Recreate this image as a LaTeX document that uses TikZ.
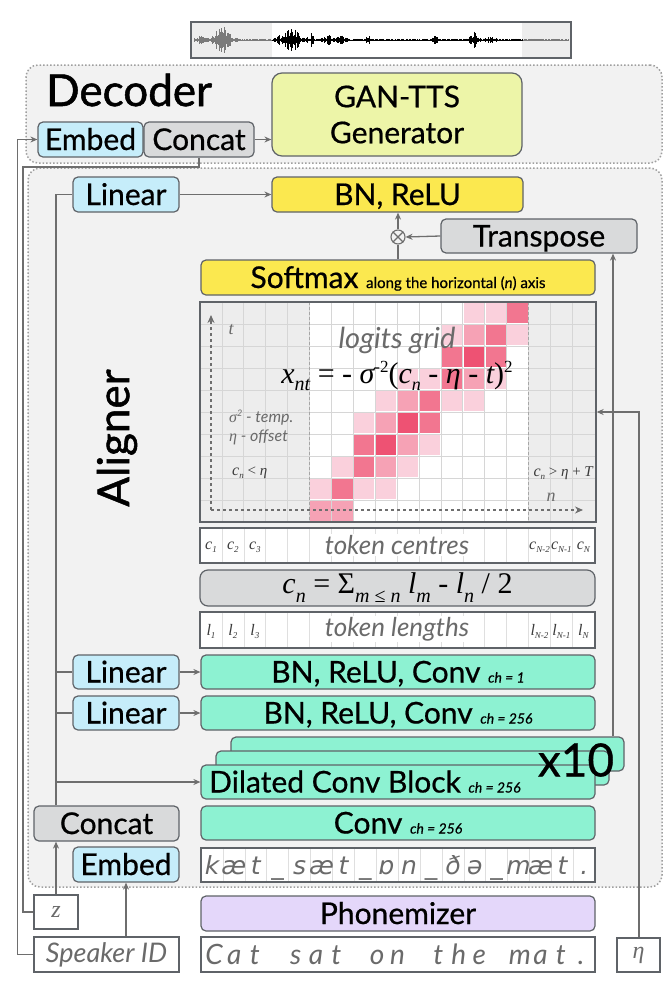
\documentclass[tikz,border=0pt]{standalone}
\usepackage{fontspec}
\setmainfont{Lato}
\newfontfamily\lbf{Lato}[FakeBold=0.6]
\newfontfamily\ttl{Lato}[FakeBold=1.2]
\newfontfamily\tms{Liberation Serif}
\newfontfamily\ipa{DejaVu Sans}
\usetikzlibrary{arrows.meta}
\definecolor{bordc}{HTML}{5F6368}
\definecolor{linec}{HTML}{6E6E6E}
\definecolor{panel}{HTML}{F2F2F2}
\definecolor{lblue}{HTML}{C6EDFA}
\definecolor{lgray}{HTML}{D9DADB}
\definecolor{ylw}{HTML}{FBE84F}
\definecolor{lime}{HTML}{EDF5A8}
\definecolor{aqua}{HTML}{8DF2D2}
\definecolor{lav}{HTML}{E4D7FA}
\definecolor{txtg}{HTML}{6A6A6A}
\definecolor{txtd}{HTML}{3A3A3A}
\definecolor{pL}{HTML}{FAD0DC}
\definecolor{pM}{HTML}{F6A2B5}
\definecolor{pMD}{HTML}{F27690}
\definecolor{pD}{HTML}{EE5273}
\definecolor{gridbg}{HTML}{EDEDED}
\definecolor{gridln}{HTML}{D6D6D6}
\definecolor{wavg}{HTML}{7A7A7A}
\newcommand\lbl{\lbf\fontsize{30}{34}\selectfont}
\newcommand\chs[1]{{\fontsize{14}{14}\selectfont\itshape #1}}
\newcommand\ci[2]{{\tms\itshape\fontsize{16}{16}\selectfont #1\raisebox{-3pt}{\fontsize{9}{9}\selectfont #2}}}
\newcommand\bx[7]{%
  \pgfmathsetmacro\bxcx{(#3+#5)/2}\pgfmathsetmacro\bxcy{(#4+#6)/2}%
  \pgfmathsetmacro\bxw{#5-#3}\pgfmathsetmacro\bxh{#6-#4}%
  \node[#2, minimum width=\bxw pt, minimum height=\bxh pt] (#1) at (\bxcx,\bxcy) {#7};}
\begin{document}
\begin{tikzpicture}[x=1pt,y=-1pt,
  declare function={bump(\x,\c,\w)=exp(0-pow(min(abs((\x-\c)/\w),3),2));},
  box/.style={draw=bordc, line width=1.2pt, rounded corners=5pt, inner sep=0pt, text=black, font=\lbl, text height=21pt, text depth=0pt},
  wbox/.style={draw=bordc, line width=1.2pt, fill=white, inner sep=0pt, text=txtg},
  panelst/.style={draw=gray!75, dotted, line width=1.5pt, fill=panel, rounded corners=12pt, inner sep=0pt},
  conn/.style={draw=linec, line width=1.3pt},
  arr/.style={conn, -{Stealth[length=7pt,width=6pt]}},
  axis/.style={draw=linec, line width=1.3pt, dashed, -{Stealth[length=8pt,width=7pt]}}
]
\useasboundingbox (0,0) rectangle (670,983);
\fill[white] (0,0) rectangle (670,983);

% ---------- waveform ----------
\fill[white] (191,22) rectangle (571,58);
\fill[gray!14] (191,22) rectangle (272,58);
\fill[gray!14] (522,22) rectangle (571,58);
\pgfmathsetseed{7}
\foreach \i in {0,...,374}{
  \pgfmathsetmacro\xx{194+\i}
  \pgfmathsetmacro\am{1.2+3*bump(\xx,200,6)+13*bump(\xx,221,9)+12*bump(\xx,291,11)+9*bump(\xx,312,1.5)+4*bump(\xx,328,7)+5*bump(\xx,342,4)+3*bump(\xx,368,3)+4*bump(\xx,435,3)+9*bump(\xx,473,4)+2*bump(\xx,490,5)}
  \pgfmathsetmacro\hh{\am*(0.2+0.8*rnd)}
  \pgfmathsetmacro\cc{(\xx<272 || \xx>522) ? 1 : 0}
  \ifnum\cc=1 \def\wc{wavg}\else\def\wc{black}\fi
  \draw[\wc, line width=0.9pt] (\xx,40-\hh) -- (\xx,40+\hh);
}
\bx{wave}{draw=bordc, line width=1.2pt, inner sep=0pt}{191}{22}{571}{58}{}

% ---------- decoder ----------
\bx{decpanel}{panelst}{26}{65}{662}{163}{}
\node[anchor=west, font=\ttl\fontsize{44}{44}\selectfont, inner sep=0pt] (dectitle) at (46,90) {Decoder};
\bx{gan}{box, fill=lime, rounded corners=10pt, text height=, text depth=, align=center, font=\lbf\fontsize{30}{36}\selectfont}{272}{73}{522}{156}{GAN-TTS\\Generator}
\bx{embD}{box, fill=lblue}{38}{122}{143}{157}{Embed}
\bx{concD}{box, fill=lgray}{144}{122}{254}{157}{Concat}

% ---------- aligner ----------
\bx{alpanel}{panelst}{28}{168}{662}{887}{}
\node[rotate=90, font=\ttl\fontsize{44}{44}\selectfont, inner sep=0pt] (altitle) at (117,438) {Aligner};

\bx{linT}{box, fill=lblue}{73}{177}{179}{212}{Linear}
\bx{bnT}{box, fill=ylw}{272}{177}{523}{212}{BN, ReLU}
\bx{trans}{box, fill=lgray}{441}{219}{637}{253}{Transpose}
\node[circle, draw=linec, line width=1.1pt, minimum size=14pt, inner sep=0pt] (mul) at (398,237) {};
\draw[linec, line width=1.1pt] (mul.north west) -- (mul.south east) (mul.north east) -- (mul.south west);
\bx{soft}{box, fill=ylw}{201}{260}{595}{295}{Softmax {\fontsize{15}{15}\selectfont along the horizontal (\textit{n}) axis}}

% ---------- logits grid ----------
\fill[gridbg] (200,302) rectangle (596,522);
\fill[white] (309.5,302) rectangle (528.5,522);
\foreach \i in {1,...,17}{ \draw[gridln, line width=0.7pt] ({200+21.9*\i},302) -- ({200+21.9*\i},522); }
\foreach \j in {1,...,9}{ \draw[gridln, line width=0.7pt] (200,{302+22*\j}) -- (596,{302+22*\j}); }
\draw[gray!70, densely dashed, line width=0.6pt] (309.5,302) -- (309.5,522) (528.5,302) -- (528.5,522);
\foreach \c/\r/\col in {12/0/pL,13/0/pL,14/0/pMD,
  11/1/pL,12/1/pM,13/1/pMD,14/1/pL,
  11/2/pMD,12/2/pD,13/2/pMD,
  9/3/pL,10/3/pL,11/3/pMD,12/3/pM,13/3/pL,
  8/4/pL,9/4/pM,10/4/pMD,11/4/pL,12/4/pL,
  7/5/pL,8/5/pM,9/5/pD,10/5/pMD,
  7/6/pMD,8/6/pD,9/6/pM,10/6/pL,
  6/7/pL,7/7/pMD,8/7/pM,9/7/pL,
  5/8/pL,6/8/pMD,7/8/pL,8/8/pL,
  5/9/pM,6/9/pM}{
  \fill[\col] ({200+21.9*\c+0.8},{302+22*\r+0.8}) rectangle ++(20.3,20.4);
}
\coordinate (ao) at (211,510);
\coordinate (at) at (211,315);
\coordinate (an) at (583,510);
\draw[axis] (ao) -- (at);
\draw[axis] (ao) -- (an);
\node[text=txtg, font=\tms\itshape\fontsize{18}{18}\selectfont] (tlab) at (231,330) {t};
\node[text=txtg, font=\tms\itshape\fontsize{18}{18}\selectfont] (nlab) at (551,497) {n};
\node[text=txtg, font=\itshape\fontsize{29}{29}\selectfont] (lg) at (397,340) {logits grid};
\node[text=black, inner sep=0pt] (fx) at (397,376) {\tms\itshape\fontsize{30}{30}\selectfont x\raisebox{-7pt}{\fontsize{20}{20}\selectfont nt}\upshape{} = - \itshape σ\raisebox{11pt}{\upshape\fontsize{17}{17}\selectfont -2}\upshape(\itshape c\raisebox{-7pt}{\fontsize{18}{18}\selectfont n}\upshape{} - \itshape η\upshape{} - \itshape t\upshape)\raisebox{11pt}{\fontsize{17}{17}\selectfont 2}};
\node[anchor=west, text=txtg, font=\itshape\fontsize{16}{16}\selectfont, inner sep=0pt] (sig) at (229,418) {{\tms σ}\raisebox{6pt}{\fontsize{9}{9}\selectfont 2} - temp.};
\node[anchor=west, text=txtg, font=\itshape\fontsize{16}{16}\selectfont, inner sep=0pt] (eta) at (229,437) {{\tms η} - offset};
\node[anchor=west, text=txtd, inner sep=0pt] (cl) at (232,473) {\ci{c}{n}{\tms\fontsize{15}{15}\selectfont\ \textless\ \itshape η}};
\node[anchor=east, text=txtd, inner sep=0pt] (cr) at (593,473) {\ci{c}{n}{\tms\fontsize{15}{15}\selectfont\ \textgreater\ \itshape η\upshape\ + \itshape T}};
\bx{grid}{draw=bordc, line width=1.3pt, inner sep=0pt}{200}{302}{596}{522}{}

% ---------- token rows ----------
\bx{tc}{wbox}{200}{528}{595}{563}{}
\bx{form}{box, fill=lgray, rounded corners=8pt, text height=, text depth=}{200}{570}{595}{606}{\tms\fontsize{30}{30}\selectfont\itshape c\raisebox{-9pt}{\fontsize{20}{20}\selectfont n}\upshape{} = Σ\raisebox{-9pt}{\itshape\fontsize{20}{20}\selectfont m\upshape{} ≤ \itshape n}\itshape{} l\raisebox{-9pt}{\fontsize{20}{20}\selectfont m}\upshape{} - \itshape l\raisebox{-9pt}{\fontsize{20}{20}\selectfont n}\upshape{} / 2}
\bx{tl}{wbox}{200}{612}{595}{648}{}
\foreach \i in {1,...,17}{
  \draw[gray!25, line width=0.6pt] ({200+21.9*\i},529) -- ({200+21.9*\i},562);
  \draw[gray!25, line width=0.6pt] ({200+21.9*\i},613) -- ({200+21.9*\i},647);
}
\node[fill=white, inner sep=1pt, text=txtg, font=\itshape\fontsize{26}{26}\selectfont] (tclab) at (397,545) {token centres};
\node[fill=white, inner sep=1pt, text=txtg, font=\itshape\fontsize{26}{26}\selectfont] (tllab) at (397,629) {token lengths};
\foreach \k/\s [count=\n from 0] in {1/1,2/2,3/3}{
  \node[text=txtd] (tca\n) at ({211+21.9*\n},547) {\ci{c}{\s}};
  \node[text=txtd] (tla\n) at ({211+21.9*\n},631) {\ci{l}{\s}};
}
\foreach \s [count=\n from 15] in {N-2,N-1,N}{
  \node[text=txtd, inner sep=0pt] (tcb\n) at ({211+21.9*\n},547) {\ci{c}{\s}};
  \node[text=txtd, inner sep=0pt] (tlb\n) at ({211+21.9*\n},631) {\ci{l}{\s}};
}

% ---------- conv stack ----------
\bx{lin1}{box, fill=lblue}{73}{655}{179}{689}{Linear}
\bx{bn1}{box, fill=aqua}{201}{655}{595}{689}{BN, ReLU, Conv \chs{ch = 1}}
\bx{lin2}{box, fill=lblue}{73}{696}{179}{730}{Linear}
\bx{bn2}{box, fill=aqua}{201}{696}{595}{730}{BN, ReLU, Conv \chs{ch = 256}}
\bx{dilB}{box, fill=aqua}{231}{737}{624}{771}{}
\bx{dilM}{box, fill=aqua}{216}{751}{609}{785}{}
\bx{dil}{box, fill=aqua}{201}{765}{595}{799}{}
\node[anchor=west, font=\lbl, inner sep=0pt, text height=21pt, text depth=0pt] (diltxt) at (209,782) {Dilated Conv Block \chs{ch = 256}};
\node[font=\lbf\fontsize{46}{46}\selectfont, inner sep=0pt] (x10) at (576,760) {x10};
\bx{conv}{box, fill=aqua}{201}{806}{595}{840}{Conv \chs{ch = 256}}
\bx{concA}{box, fill=lgray}{34}{806}{179}{841}{Concat}
\bx{embA}{box, fill=lblue}{73}{847}{179}{882}{Embed}
\bx{phon}{wbox}{201}{848}{595}{882}{}
\foreach \i in {1,...,17}{ \draw[gray!25, line width=0.6pt] ({201+21.9*\i},849) -- ({201+21.9*\i},881); }
\foreach \ch [count=\n from 0] in {k,æ,t,\_,s,æ,t,\_,ɒ,n,\_,ð,ə,\_,m,æ,t,.}{
  \node[text=txtg, font=\ipa\itshape\fontsize{25}{25}\selectfont, inner sep=0pt, anchor=base] (ph\n) at ({212+21.9*\n},874) {\ch};
}

% ---------- inputs ----------
\bx{zb}{wbox}{34}{895}{78}{929}{\tms\itshape\fontsize{24}{24}\selectfont z}
\bx{phz}{box, fill=lav}{201}{896}{595}{931}{Phonemizer}
\bx{spk}{wbox, font=\itshape\fontsize{27}{27}\selectfont}{34}{937}{179}{972}{Speaker ID}
\bx{cat}{wbox}{201}{937}{595}{972}{}
\foreach \ch [count=\n from 0] in {C,a,t, ,s,a,t, ,o,n, ,t,h,e, ,m,a,t,.}{
  \node[text=txtg, font=\itshape\fontsize{28}{28}\selectfont, inner sep=0pt, anchor=base] (ct\n) at ({214+20.4*\n},964) {\ch};
}
\bx{etab}{wbox}{617}{938}{660}{972}{\tms\itshape\fontsize{24}{24}\selectfont η}

% ---------- connectors ----------
\coordinate (bus) at (56,0);
\coordinate (zc) at (23,167);
\coordinate (tcol) at (613,0);
\coordinate (etaT) at (639,412);
\draw[arr] (spk.west) -- ++(-16,0) |- (embD.west);
\draw[conn] (zb.west) -| (zc) -| (concD.south);
\draw[arr] (concD.east) -- (concD.east -| gan.west);
\draw[arr] (zb.north) -- (zb.north |- concA.south);
\draw[arr] (embA.south |- spk.north) -- (embA.south);
\draw[conn] (concA.north -| bus) -- (bus |- linT.west) -- (linT.west);
\draw[conn] (bus |- lin1.west) -- (lin1.west);
\draw[conn] (bus |- lin2.west) -- (lin2.west);
\draw[arr] (bus |- dil.west) -- (dil.west);
\draw[arr] (linT.east) -- (bnT.west);
\draw[arr] (lin1.east) -- (bn1.west);
\draw[arr] (lin2.east) -- (bn2.west);
\draw[conn] (soft.north -| mul.south) -- (mul.south);
\draw[arr] (mul.north) -- (mul.north |- bnT.south);
\draw[arr] (trans.west) -- (mul.east);
\draw[arr] (dilB.north -| tcol) -- (trans.south -| tcol);
\draw[arr] (etab.north -| etaT) -- (etaT) -- (grid.east |- etaT);
\end{tikzpicture}
\end{document}
